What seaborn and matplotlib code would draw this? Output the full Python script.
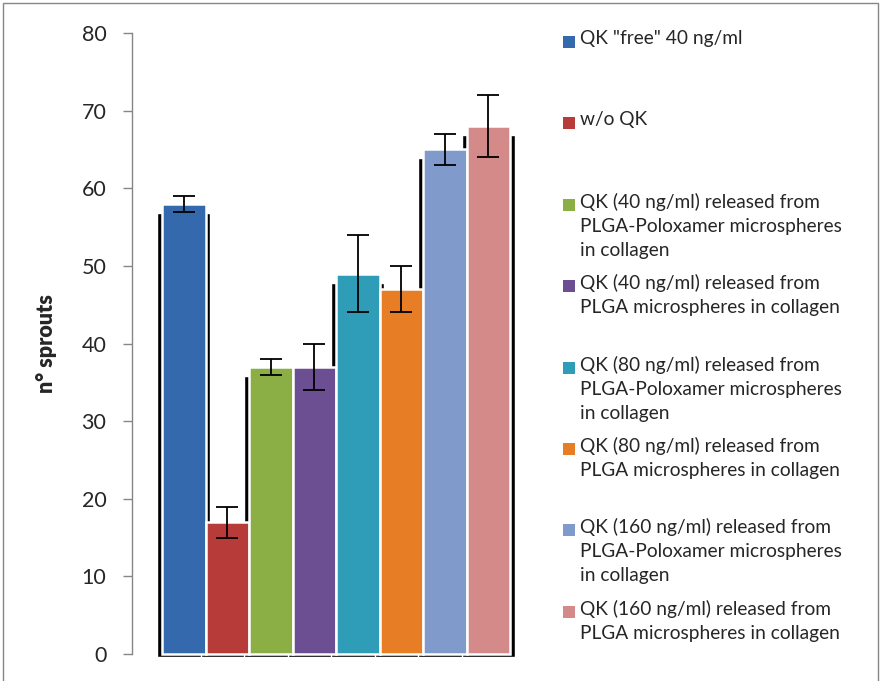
import numpy as np
import pandas as pd
import seaborn as sns
import matplotlib.pyplot as plt
from matplotlib.patches import Rectangle

groups = ['QK "free" 40 ng/ml',
          'w/o QK',
          'QK (40 ng/ml) released from\nPLGA-Poloxamer microspheres\nin collagen',
          'QK (40 ng/ml) released from\nPLGA microspheres in collagen',
          'QK (80 ng/ml) released from\nPLGA-Poloxamer microspheres\nin collagen',
          'QK (80 ng/ml) released from\nPLGA microspheres in collagen',
          'QK (160 ng/ml) released from\nPLGA-Poloxamer microspheres\nin collagen',
          'QK (160 ng/ml) released from\nPLGA microspheres in collagen']
sprouts = [58, 17, 37, 37, 49, 47, 65, 68]
err = [1, 2, 1, 3, 5, 3, 2, 4]
colors = ['#3569ae', '#b73c39', '#8bae45', '#6c4f92',
          '#2f9cb8', '#e77e26', '#809bcb', '#d48a89']

sns.set_style('white')
plt.rcParams['font.family'] = ['Lato', 'DejaVu Sans']

fig = plt.figure(figsize=(8.81, 6.81), dpi=100)
W, H = 881, 681
ax = fig.add_axes([132 / W, (H - 654) / H, (517 - 132) / W, (654 - 33) / H])

df = pd.DataFrame({'group': groups, 'sprouts': sprouts})
x = np.arange(len(groups))

# soft black shadow behind each bar
ax.bar(x, np.array(sprouts) - 0.8, bottom=-0.35, width=1.22, color='black',
       zorder=1, clip_on=False)

sns.barplot(data=df, x='group', y='sprouts', hue='group', palette=colors,
            saturation=1, legend=False, width=1.0, edgecolor='white',
            linewidth=1.8, ax=ax, zorder=2)
for p in ax.patches[len(groups):]:
    p.set_clip_on(False)

ax.errorbar(x, sprouts, yerr=err, fmt='none', ecolor='black',
            elinewidth=1.3, capsize=8, capthick=1.3, zorder=5)

ax.set_xlim(-1.19, 7.66)
ax.set_ylim(0, 80)
ax.set_yticks(range(0, 81, 10))
ax.set_xticks([])
ax.set_xlabel('')
ax.tick_params(axis='y', direction='out', length=6.5, width=1, color='#868686',
               labelsize=15.5, pad=12, left=True)
for s in ['top', 'right', 'bottom']:
    ax.spines[s].set_visible(False)
ax.spines['left'].set_color('#868686')
ax.spines['left'].set_linewidth(1)
ax.set_ylabel('n° sprouts', fontsize=15.5, fontweight='heavy')
ax.yaxis.set_label_coords((57 - 132) / (517 - 132), 0.5)

# legend, laid out like the Excel one
y0, step = 42, 81.4
for i, (lab, c) in enumerate(zip(groups, colors)):
    yc = y0 + i * step
    fig.add_artist(Rectangle((563 / W, (H - yc - 6) / H), 12 / W, 12 / H,
                             facecolor=c, edgecolor='none',
                             transform=fig.transFigure))
    fig.text(580 / W, (H - yc + 12) / H, lab, fontsize=13.8, va='top',
             linespacing=1.5)

fig.add_artist(Rectangle((3 / W, -0.01), 875 / W, (678 / H) + 0.01,
                         fill=False, edgecolor='#868686', linewidth=1,
                         transform=fig.transFigure))

fig.savefig('out.png', dpi=100)
